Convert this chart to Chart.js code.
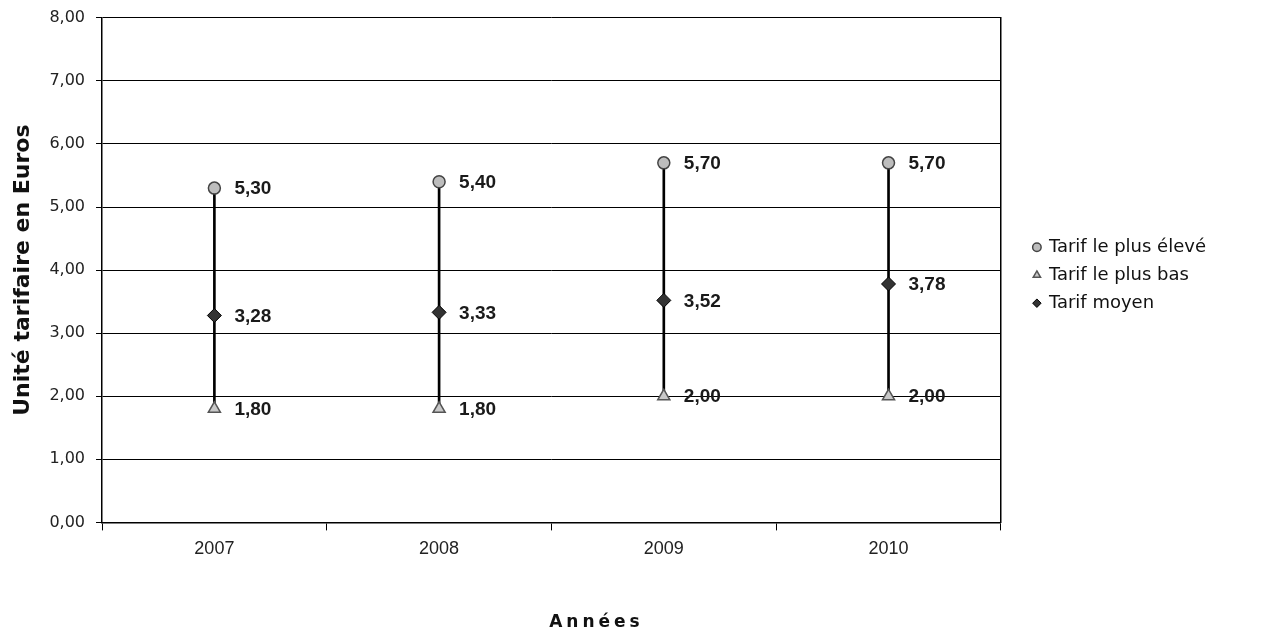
<!DOCTYPE html>
<html>
<head>
<meta charset="utf-8">
<script src="https://cdn.jsdelivr.net/npm/chart.js@4"></script>
<style>
  html, body { margin: 0; padding: 0; background: #fff; }
  #wrap { width: 1274px; height: 635px; }
</style>
</head>
<body>
<div id="wrap"><canvas id="tarifChart"></canvas></div>
<script>
const years = ['2007', '2008', '2009', '2010'];
const tarifHaut = [5.30, 5.40, 5.70, 5.70];
const tarifBas = [1.80, 1.80, 2.00, 2.00];
const tarifMoyen = [3.28, 3.33, 3.52, 3.78];

const LABELS = {
    HAUT: 'Tarif le plus élevé',
    BAS: 'Tarif le plus bas',
    MOYEN: 'Tarif moyen',
    Y_TITLE: 'Unité tarifaire en Euros',
    X_TITLE: 'Années',
};

const SANS = '"DejaVu Sans", sans-serif';
const ARIAL = '"Liberation Sans", Arial, sans-serif';

function fmt(v) {
    return v.toFixed(2).replace('.', ',');
}

// étiquettes de valeur à droite des points
const valueLabels = {
    id: 'valueLabels',
    afterDatasetsDraw(chart) {
        const ctx = chart.ctx;
        ctx.save();
        ctx.font = 'bold 19px ' + ARIAL;
        ctx.fillStyle = '#1a1a1a';
        ctx.textBaseline = 'middle';
        ctx.textAlign = 'left';
        chart.data.datasets.forEach((ds, i) => {
            if (ds.type === 'bar') return;
            const meta = chart.getDatasetMeta(i);
            meta.data.forEach((pt, j) => {
                ctx.fillText(fmt(ds.data[j]), pt.x + 20, pt.y + 1);
            });
        });
        ctx.restore();
    }
};

// titre de l'axe X, espacé comme dans l'original
const xTitle = {
    id: 'xTitle',
    afterDraw(chart) {
        const ctx = chart.ctx;
        const area = chart.chartArea;
        ctx.save();
        ctx.font = 'bold 17px ' + SANS;
        ctx.letterSpacing = '4px';
        ctx.fillStyle = '#111';
        ctx.textAlign = 'center';
        ctx.textBaseline = 'middle';
        ctx.fillText(LABELS.X_TITLE, area.left + (area.right - area.left) * 0.55, chart.height - 12);
        ctx.restore();
    }
};

const ctx = document.getElementById('tarifChart').getContext('2d');
new Chart(ctx, {
    data: {
        labels: years,
        datasets: [
            {
                type: 'line',
                label: LABELS.HAUT,
                data: tarifHaut,
                showLine: false,
                pointStyle: 'circle',
                pointRadius: 6,
                pointBackgroundColor: '#bdbdbd',
                pointBorderColor: '#444',
                pointBorderWidth: 1.5,
                backgroundColor: '#bdbdbd',
                borderColor: '#444',
                order: 1
            },
            {
                type: 'line',
                label: LABELS.BAS,
                data: tarifBas,
                showLine: false,
                pointStyle: 'triangle',
                pointRadius: 7,
                pointBackgroundColor: '#c8c8c8',
                pointBorderColor: '#555',
                pointBorderWidth: 1.5,
                backgroundColor: '#c8c8c8',
                borderColor: '#555',
                order: 1
            },
            {
                type: 'line',
                label: LABELS.MOYEN,
                data: tarifMoyen,
                showLine: false,
                pointStyle: 'rectRot',
                pointRadius: 7,
                pointBackgroundColor: '#333',
                pointBorderColor: '#000',
                pointBorderWidth: 1,
                backgroundColor: '#333',
                borderColor: '#000',
                order: 1
            },
            {
                // lignes haut-bas
                type: 'bar',
                label: 'hl',
                data: years.map((y, i) => [tarifBas[i], tarifHaut[i]]),
                backgroundColor: '#000',
                barThickness: 2,
                order: 10
            }
        ]
    },
    options: {
        responsive: true,
        maintainAspectRatio: false,
        animation: false,
        layout: { padding: { left: 10, top: 3, right: 58, bottom: 67 } },
        plugins: {
            tooltip: { enabled: false },
            legend: {
                position: 'right',
                fullSize: false,
                title: { display: true, text: '', padding: { top: 9, bottom: 0 }, font: { size: 1 } },
                labels: {
                    filter: item => item.text !== 'hl',
                    usePointStyle: true,
                    boxWidth: 6,
                    boxHeight: 6,
                    padding: 10,
                    color: '#111',
                    font: { family: SANS, size: 18 }
                }
            }
        },
        scales: {
            x: {
                grid: { display: true, drawOnChartArea: false, offset: true, color: '#000', tickLength: 8, tickWidth: 1 },
                border: { color: '#000', width: 1.5 },
                ticks: {
                    color: '#222',
                    padding: 8,
                    font: { family: ARIAL, size: 18 }
                }
            },
            y: {
                min: 0,
                max: 8,
                ticks: {
                    stepSize: 1,
                    color: '#222',
                    padding: 11,
                    callback: v => fmt(v),
                    font: { family: SANS, size: 16, lineHeight: 0.85 }
                },
                grid: { color: '#000', lineWidth: 1, tickLength: 6 },
                border: { color: '#000', width: 1.5 },
                title: {
                    display: true,
                    text: LABELS.Y_TITLE,
                    color: '#111',
                    padding: { top: 0, bottom: 2 },
                    font: { family: SANS, size: 22, weight: 'bold' }
                }
            },
            y2: {
                position: 'right',
                min: 0,
                max: 8,
                grid: { display: false },
                ticks: { display: false },
                border: { color: '#000', width: 1.5 },
                afterFit: s => { s.width = 23; }
            }
        }
    },
    plugins: [valueLabels, xTitle]
});
</script>
</body>
</html>
